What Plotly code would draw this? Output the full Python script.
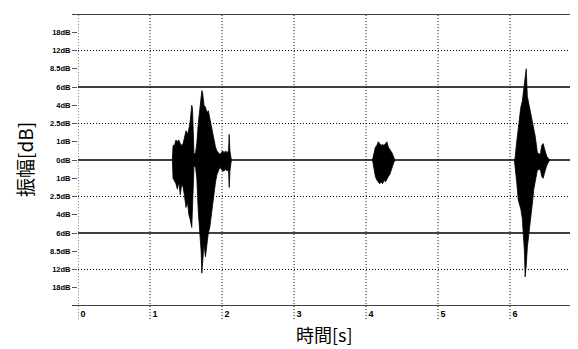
import plotly.graph_objects as go

# ---- axis labels / levels ----
db_labels = ["0dB", "1dB", "2.5dB", "4dB", "6dB", "8.5dB", "12dB", "18dB"]
tick_pos = list(range(-7, 8))
tick_text = [db_labels[abs(v)] for v in tick_pos]
solid_levels = [-8, -4, 0, 4, 8]
dotted_levels = [-6, -2, 2, 6]
sec_ticks = [0, 1, 2, 3, 4, 5, 6]
sec_labels = ["0", "1", "2", "3", "4", "5", "6"]

# ---- waveform envelopes (time [s], upper, lower) ----
b1_t = [1.31, 1.32, 1.34, 1.36, 1.38, 1.40, 1.42, 1.44, 1.46, 1.48, 1.50, 1.52, 1.54,
        1.56, 1.58, 1.59, 1.60, 1.61, 1.63, 1.65, 1.67, 1.69, 1.71, 1.72, 1.73, 1.75,
        1.77, 1.79, 1.81, 1.83, 1.85, 1.87, 1.89, 1.91, 1.93, 1.95, 1.97, 1.99, 2.01,
        2.03, 2.05, 2.07, 2.09, 2.10, 2.11, 2.13]
b1_up = [0.0, 0.8, 0.8, 1.1, 1.0, 1.1, 0.9, 0.8, 0.9, 1.3, 1.6, 1.4, 1.7,
         2.2, 3.0, 2.8, 1.2, 0.4, 0.3, 0.9, 2.0, 2.8, 3.5, 3.8, 3.7, 3.0,
         2.9, 2.6, 2.7, 2.3, 1.8, 1.3, 1.0, 0.7, 0.5, 0.4, 0.3, 0.4, 0.5,
         0.4, 0.5, 0.4, 0.5, 1.4, 0.5, 0.0]
b1_lo = [0.0, -1.0, -1.1, -1.3, -1.6, -1.2, -1.9, -1.3, -1.5, -2.0, -2.6, -2.3, -3.0,
         -3.3, -3.7, -3.2, -1.5, -0.4, -0.3, -1.0, -2.8, -4.0, -5.0, -6.2, -5.5, -4.6,
         -5.3, -4.8, -4.0, -3.7, -3.0, -2.4, -1.9, -1.2, -0.8, -0.6, -0.4, -0.5, -0.6,
         -0.6, -0.5, -0.6, -0.5, -1.5, -0.6, 0.0]

b2_t = [4.09, 4.11, 4.13, 4.15, 4.17, 4.19, 4.21, 4.23, 4.25, 4.27, 4.29, 4.31, 4.33,
        4.36, 4.38, 4.40]
b2_up = [0.0, 0.4, 0.7, 0.8, 1.0, 0.9, 0.8, 0.85, 0.8, 0.9, 1.0, 0.7, 0.6, 0.4, 0.2, 0.0]
b2_lo = [0.0, -0.5, -0.9, -1.1, -1.2, -1.3, -1.2, -1.3, -1.1, -1.2, -1.1, -0.9, -0.8,
         -0.5, -0.2, 0.0]

b3_t = [6.06, 6.07, 6.09, 6.115, 6.15, 6.17, 6.185, 6.20, 6.21, 6.225, 6.24, 6.26,
        6.28, 6.30, 6.315, 6.33, 6.35, 6.38, 6.42, 6.44, 6.46, 6.48, 6.51, 6.55]
b3_up = [0.0, 0.1, 0.9, 1.8, 2.9, 3.2, 3.7, 4.2, 4.6, 5.0, 3.5, 3.1,
         2.7, 2.4, 2.0, 1.6, 1.3, 0.4, 0.3, 0.8, 0.9, 0.6, 0.2, 0.0]
b3_lo = [0.0, -0.2, -1.1, -2.2, -2.7, -3.2, -4.0, -5.0, -6.4, -5.8, -4.8, -4.0,
         -3.3, -2.7, -2.2, -1.6, -1.1, -0.55, -0.5, -0.9, -1.0, -0.7, -0.3, 0.0]

bursts = [(b1_t, b1_up, b1_lo), (b2_t, b2_up, b2_lo), (b3_t, b3_up, b3_lo)]

fig = go.Figure()
for t, up, lo in bursts:
    fig.add_trace(go.Scatter(
        x=t + t[::-1], y=up + lo[::-1], mode="lines", fill="toself",
        fillcolor="black", line=dict(color="black", width=0.8),
        hoverinfo="skip", showlegend=False))

shapes = []
for lvl in solid_levels:
    x0 = -0.012 if abs(lvl) == 8 else 0
    shapes.append(dict(type="line", xref="paper", yref="y", x0=x0, x1=1, y0=lvl, y1=lvl,
                       line=dict(color="black", width=1.3), layer="below"))
for lvl in dotted_levels:
    shapes.append(dict(type="line", xref="paper", yref="y", x0=0, x1=1, y0=lvl, y1=lvl,
                       line=dict(color="black", width=1, dash="1px,2px"), layer="below"))
for s in sec_ticks:
    shapes.append(dict(type="line", xref="x", yref="paper", x0=s, x1=s, y0=-0.045, y1=1,
                       line=dict(color="black", width=1, dash="1px,2px"), layer="below"))

# page body has an 8px default margin; figure is sized to fill the rest of the window
fig.update_layout(
    width=570, height=341,
    margin=dict(l=70, r=0, t=6, b=43),
    paper_bgcolor="white", plot_bgcolor="white",
    shapes=shapes,
    showlegend=False,
    xaxis=dict(range=[0, 6.944], showgrid=False, zeroline=False, showline=False,
               tickmode="array", tickvals=sec_ticks, ticktext=sec_labels, ticks="",
               ticklabelshift=5, ticklabelstandoff=1,
               tickfont=dict(family="Liberation Sans", size=9, color="black", weight="bold")),
    yaxis=dict(range=[-8, 8], showgrid=False, zeroline=False, showline=False,
               tickmode="array", tickvals=tick_pos, ticktext=tick_text,
               ticks="outside", ticklen=5, tickcolor="#555", tickwidth=1,
               tickfont=dict(family="Liberation Sans", size=7.5, color="black", weight="bold")),
    annotations=[
        dict(text="振幅[dB]", xref="paper", yref="paper", x=0, y=0.5, xanchor="center",
             yanchor="middle", xshift=-54, textangle=-90, showarrow=False,
             font=dict(family="Noto Sans CJK JP", size=19, color="black")),
        dict(text="時間[s]", xref="paper", yref="paper", x=0.5, y=0, xanchor="center",
             yanchor="middle", yshift=-28, xshift=-4, showarrow=False,
             font=dict(family="Noto Sans CJK JP", size=18, color="black")),
    ],
)

fig.write_html("out.html")
